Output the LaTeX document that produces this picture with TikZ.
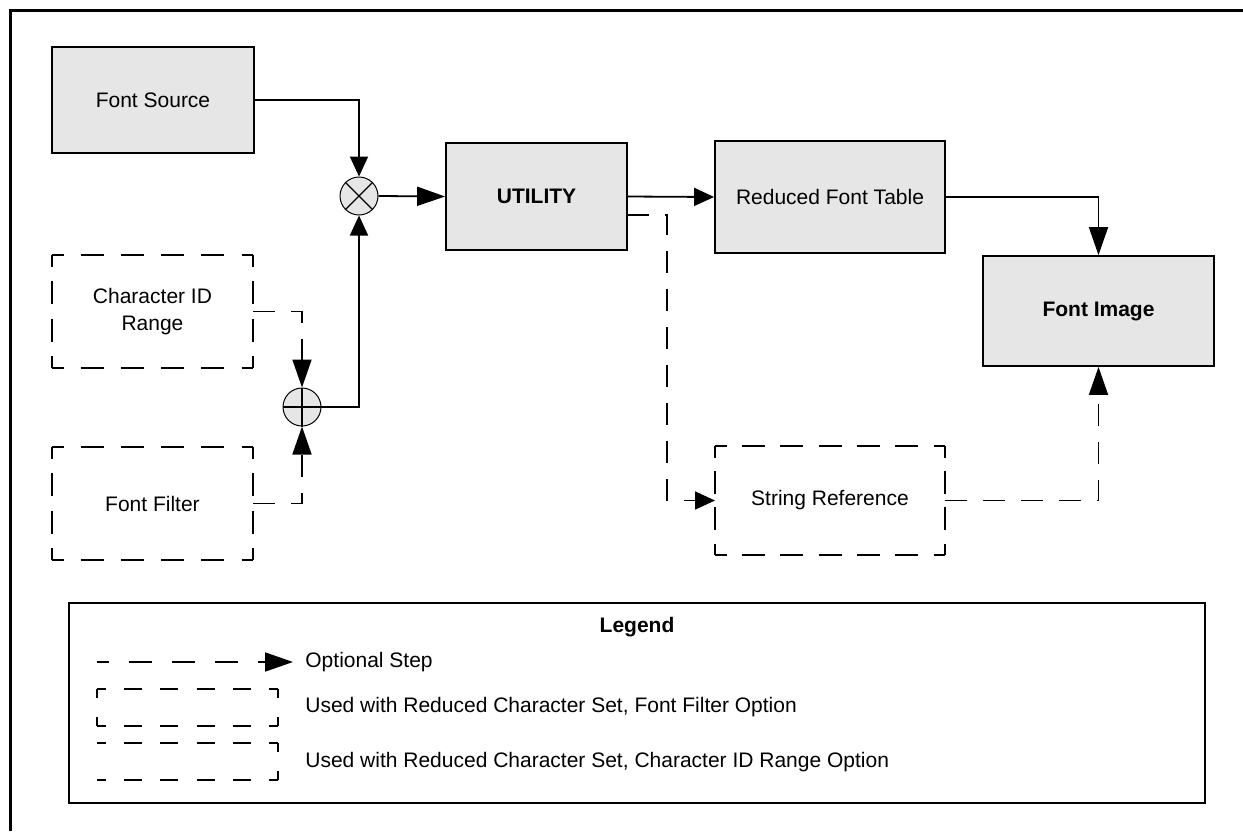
\documentclass[tikz,border=0pt]{standalone}
\usepackage{fontspec}
\setmainfont{Liberation Sans}
\usetikzlibrary{arrows.meta}

\definecolor{boxgrey}{HTML}{E6E6E6}
\newcommand\diagfont{\fontsize{10.5}{13.5}\selectfont}

% dashed outline with half dashes in the corners:
% node, on, phase, horizontal off, vertical off
\newcommand\optoutline[5]{%
  \draw[line width=0.9pt, dash pattern=on #2 off #4, dash phase=#3]
    (#1.north west) -- (#1.north east) (#1.south west) -- (#1.south east);
  \draw[line width=0.9pt, dash pattern=on #2 off #5, dash phase=#3]
    (#1.north west) -- (#1.south west) (#1.north east) -- (#1.south east);
}

\tikzset{
  block/.style={draw, line width=0.9pt, fill=boxgrey, inner sep=0pt, align=center, font=\diagfont},
  optblock/.style={inner sep=0pt, outer sep=0pt, align=center, font=\diagfont},
  junction/.style={circle, draw, line width=0.5pt, fill=boxgrey, minimum size=19pt, inner sep=0pt},
  flow/.style={line width=0.9pt, -{Triangle[length=10pt,width=9pt]}},
  bigflow/.style={line width=0.9pt, -{Triangle[length=14pt,width=9.5pt]}},
  optflow/.style={dash pattern=on 11pt off 8pt},
  legtext/.style={anchor=west, inner sep=0pt, font=\diagfont}
}

\begin{document}
\begin{tikzpicture}[x=0.5pt, y=-0.5pt, line join=miter]
  \useasboundingbox (0,0) rectangle (1243,831);

  % frame
  \draw[line width=1.5pt] (10,831) -- (10,10) -- (1243,10);

  % main blocks
  \node[block, minimum width=101pt, minimum height=53pt] (src) at (153,100) {Font Source};
  \node[block, minimum width=90.5pt, minimum height=53.5pt, font=\diagfont\bfseries] (util) at (536.5,196.5) {UTILITY};
  \node[block, minimum width=115pt, minimum height=56pt] (red) at (830,197) {Reduced Font Table};
  \node[block, minimum width=115.5pt, minimum height=55pt, font=\diagfont\bfseries] (img) at (1098.5,311) {Font Image};

  % optional blocks
  \node[optblock, minimum width=100.5pt, minimum height=56.5pt] (cid) at (152.5,311.5) {Character ID\\Range};
  \node[optblock, minimum width=100.5pt, minimum height=56.5pt] (filt) at (152.5,503.5) {Font Filter};
  \node[optblock, minimum width=115pt, minimum height=54.5pt] (strref) at (830,500.5) {String Reference};
  \optoutline{cid}{11.5pt}{5.75pt}{8.6pt}{7.33pt}
  \optoutline{filt}{11.5pt}{5.75pt}{8.6pt}{7.33pt}
  \optoutline{strref}{11.5pt}{5.75pt}{7.67pt}{6.67pt}

  % junctions
  \node[junction] (mul) at (359,196) {};
  \node[junction] (plus) at (302,407) {};
  \draw[line width=0.6pt] (mul.north west) -- (mul.south east) (mul.north east) -- (mul.south west);
  \draw[line width=0.8pt] (plus.north) -- (plus.south) (plus.west) -- (plus.east);

  % connectors
  \draw[flow] (src.east) -| (mul.north);
  \draw[flow] (plus.east) -| (mul.south);
  \draw[bigflow] (mul.east) -- (util.west);
  \draw[flow] (util.east) -- (red.west);
  \draw[bigflow] (red.east) -| (img.north);

  \coordinate (utap) at (627,215);
  \coordinate (ubend) at (667,215);
  \draw[optflow, flow] (utap) -- (ubend) |- (strref.west);
  \draw[optflow, bigflow] (strref.east) -| (img.south);
  \draw[optflow, bigflow] (cid.east) -| (plus.north);
  \draw[optflow, bigflow] (filt.east) -| (plus.south);

  % legend
  \node[draw, line width=0.9pt, minimum width=568pt, minimum height=100pt, inner sep=0pt, outer sep=0pt, anchor=north west] (legend) at (69,603) {};
  \node[font=\diagfont\bfseries] (legtitle) at (637,627) {Legend};

  \coordinate (lgstart) at (97,662);
  \coordinate (lgend) at (293,662);
  \draw[bigflow, dash pattern=on 11.5pt off 10pt, dash phase=5.75pt] (lgstart) -- (lgend);
  \node[legtext] (lgtxt1) at (305,662) {Optional Step};

  \node[optblock, minimum width=90.5pt, minimum height=18.5pt] (lgfilt) at (187.5,707.5) {};
  \optoutline{lgfilt}{9pt}{4.5pt}{9.1pt}{9.5pt}
  \node[legtext] (lgtxt2) at (305,707) {Used with Reduced Character Set, Font Filter Option};

  \node[optblock, minimum width=90.5pt, minimum height=18.5pt] (lgcid) at (187.5,761.5) {};
  \draw[line width=0.9pt, dash pattern=on 9pt off 9.1pt, dash phase=4.5pt]
    (lgcid.north west) -- (lgcid.north east) (lgcid.south west) -- (lgcid.south east);
  \draw[line width=0.9pt, dash pattern=on 9pt off 9.5pt, dash phase=4.5pt]
    (lgcid.north east) -- (lgcid.south east);
  \node[legtext] (lgtxt3) at (305,762) {Used with Reduced Character Set, Character ID Range Option};
\end{tikzpicture}
\end{document}
